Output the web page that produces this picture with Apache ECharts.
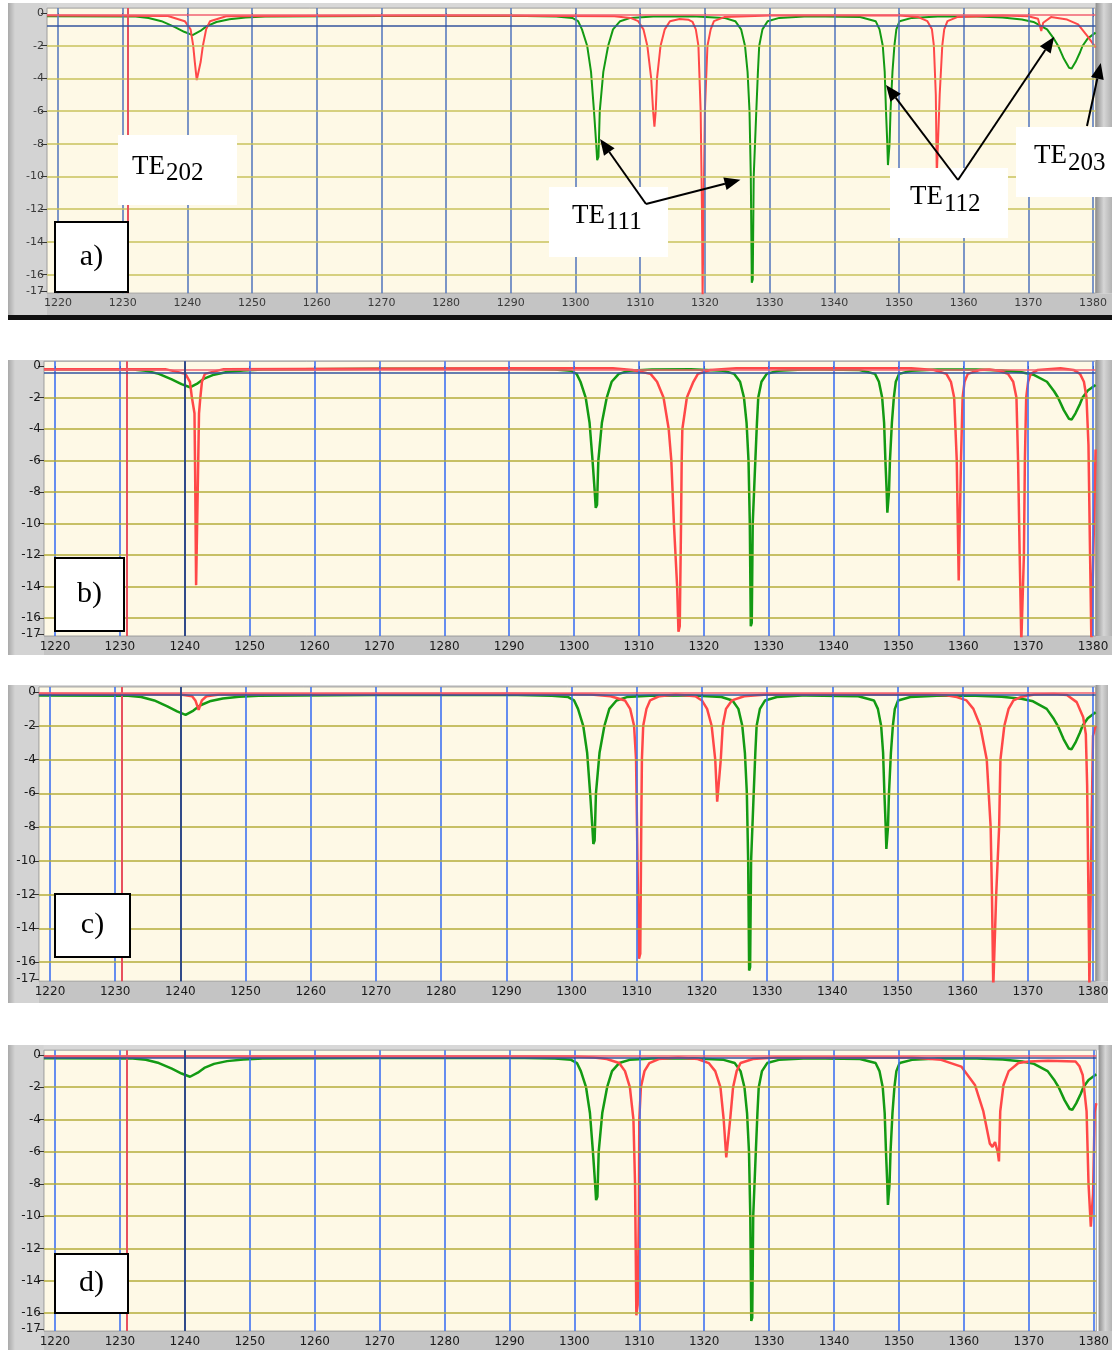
<!DOCTYPE html>
<html>
<head>
<meta charset="utf-8">
<title>Resonance spectra a)-d)</title>
<script src="https://cdn.jsdelivr.net/npm/echarts@6/dist/echarts.min.js"></script>
<style>
html, body { margin: 0; padding: 0; background: #fff; }
#chart { width: 1112px; height: 1350px; }
</style>
</head>
<body>
<div id="chart"></div>
<script>
// tick values
const xTicks = [1220, 1230, 1240, 1250, 1260, 1270, 1280, 1290, 1300, 1310, 1320, 1330, 1340, 1350, 1360, 1370, 1380];
const yTicks = [0, -2, -4, -6, -8, -10, -12, -14, -16, -17];
const hGridValues = [-2, -4, -6, -8, -10, -12, -14, -16];

// green trace (same in all four panels)
const greenTrace = [
    [1218.3, -0.2], [1232, -0.22], [1234, -0.3], [1236, -0.5], [1238, -0.85], [1239.5, -1.15], [1240.8, -1.35],
    [1242, -1.1], [1243, -0.8], [1244.5, -0.55], [1246.5, -0.38], [1249, -0.28], [1252, -0.22], [1270, -0.18], [1290, -0.17],
    [1297, -0.22], [1299.5, -0.3], [1300.4, -0.5], [1301.0, -1.0], [1301.8, -2.0], [1302.4, -3.6], [1302.86, -6.0],
    [1303.2, -8.0], [1303.35, -9.0], [1303.55, -8.8], [1303.75, -6.0], [1304.3, -3.6], [1305.05, -2.0], [1305.8, -1.0],
    [1306.9, -0.5], [1308.5, -0.3], [1312, -0.22], [1318, -0.2],
    [1323, -0.3], [1324.7, -0.5], [1325.6, -1.0], [1326.2, -2.0], [1326.6, -3.6], [1326.9, -6.0], [1327.1, -10.0],
    [1327.25, -16.5], [1327.4, -16.3], [1327.55, -10.0], [1327.95, -6.0], [1328.2, -3.6], [1328.4, -2.0], [1328.9, -1.0],
    [1329.7, -0.5], [1331.5, -0.3], [1336, -0.2],
    [1344, -0.25], [1346.4, -0.5], [1347.0, -1.0], [1347.5, -2.0], [1347.8, -3.6], [1348.0, -6.0], [1348.2, -8.0],
    [1348.3, -9.3], [1348.45, -9.2], [1348.55, -8.0], [1348.7, -6.0], [1349.0, -3.6], [1349.3, -2.0], [1349.6, -1.0],
    [1350.1, -0.5], [1352, -0.3], [1356, -0.22],
    [1362, -0.22], [1366, -0.28], [1369, -0.4], [1370.8, -0.55], [1372.9, -1.0], [1374.0, -1.6], [1374.6, -2.0],
    [1375.5, -2.8], [1376.3, -3.35], [1376.7, -3.4], [1377.3, -3.0], [1378.0, -2.4], [1378.4, -2.0], [1379.2, -1.55],
    [1380.4, -1.2]
];

// red traces, one per panel
const redA = [
    [1218.3, -0.15], [1237, -0.18], [1239.6, -0.5], [1240.5, -1.0], [1240.9, -2.0], [1241.15, -3.0], [1241.45, -4.1],
    [1241.7, -4.0], [1242.05, -3.0], [1242.4, -2.0], [1242.9, -1.0], [1243.5, -0.5], [1246, -0.2], [1280, -0.15],
    [1306, -0.2], [1308.5, -0.3], [1309.7, -0.5], [1310.5, -1.0], [1311.1, -2.0], [1311.7, -4.0], [1312.0, -6.0],
    [1312.2, -6.95], [1312.4, -6.0], [1312.6, -4.0], [1313.15, -2.0], [1313.8, -1.0], [1314.6, -0.5], [1316.1, -0.37],
    [1317.5, -0.42], [1318.1, -0.55], [1318.6, -1.0], [1319.0, -2.0], [1319.35, -6.0], [1319.55, -12], [1319.65, -17.5],
    [1319.8, -12], [1320.0, -6.0], [1320.4, -2.0], [1320.9, -1.0], [1321.4, -0.5], [1323, -0.25], [1330, -0.15],
    [1350, -0.15], [1353, -0.25], [1354.4, -0.5], [1355.1, -1.0], [1355.4, -2.0], [1355.7, -5.0], [1355.85, -10.0],
    [1356.05, -10.0], [1356.3, -5.0], [1356.7, -2.0], [1357.0, -1.0], [1357.5, -0.5], [1359, -0.25], [1366, -0.15],
    [1370, -0.2], [1371.5, -0.35], [1372.0, -1.1], [1372.3, -0.6], [1373.5, -0.25], [1376, -0.4], [1377.7, -0.7],
    [1379.2, -1.45], [1380.4, -2.1]
];
const redB = [
    [1218.3, -0.2], [1237, -0.2], [1240.1, -0.5], [1240.8, -1.0], [1241.1, -2.0], [1241.5, -3.0], [1241.6, -6.7],
    [1241.75, -13.9], [1241.9, -13.8], [1242.05, -6.7], [1242.2, -3.0], [1242.4, -2.0], [1242.65, -1.0], [1243.1, -0.5],
    [1246, -0.2], [1290, -0.15],
    [1306, -0.15], [1309, -0.25], [1311.8, -0.5], [1312.8, -1.0], [1313.8, -2.0], [1314.6, -4.0], [1315.0, -6.0],
    [1315.4, -10.0], [1315.9, -14.0], [1316.1, -16.85], [1316.3, -16.5], [1316.5, -10.0], [1316.6, -6.0], [1316.7, -4.0],
    [1317.4, -2.0], [1318.4, -1.0], [1319.1, -0.5], [1321, -0.25], [1325, -0.15],
    [1352, -0.15], [1355.5, -0.25], [1357.4, -0.5], [1358.1, -1.0], [1358.6, -2.0], [1359.0, -6.0], [1359.3, -13.6],
    [1359.5, -13.6], [1359.65, -6.0], [1359.9, -2.0], [1360.2, -1.0], [1360.7, -0.5], [1362.5, -0.25], [1364, -0.22],
    [1365.5, -0.3], [1366.9, -0.5], [1367.7, -1.0], [1368.2, -2.0], [1368.45, -6.0], [1368.7, -12.0], [1368.95, -17.5],
    [1369.2, -17.5], [1369.35, -12], [1369.5, -6.0], [1369.7, -2.0], [1370.0, -1.0], [1370.4, -0.5], [1371.5, -0.25],
    [1375, -0.15], [1377, -0.25], [1378, -0.5], [1378.6, -1.0], [1379.0, -2.0], [1379.3, -5.0], [1379.55, -12],
    [1379.75, -17.5], [1380.0, -17.5], [1380.15, -10], [1380.4, -5.3]
];
const redC = [
    [1218.3, -0.1], [1240, -0.15], [1241.8, -0.25], [1242.3, -0.5], [1242.8, -1.05], [1243.3, -0.5], [1244, -0.25],
    [1246, -0.15], [1290, -0.1],
    [1303, -0.15], [1306, -0.25], [1308.2, -0.5], [1309.0, -1.0], [1309.6, -2.0], [1309.9, -4.0], [1310.05, -8.0],
    [1310.2, -12.0], [1310.35, -15.8], [1310.55, -15.5], [1310.7, -8.0], [1310.8, -4.0], [1311.0, -2.0], [1311.5, -1.0],
    [1312.05, -0.5], [1313.5, -0.25], [1316, -0.15],
    [1319, -0.25], [1320.0, -0.5], [1320.8, -1.0], [1321.5, -2.0], [1322.05, -4.0], [1322.35, -6.5], [1322.6, -6.4],
    [1322.9, -4.0], [1323.2, -2.0], [1323.7, -1.0], [1324.6, -0.5], [1326.5, -0.25], [1330, -0.15],
    [1355, -0.15], [1357.5, -0.2], [1359.1, -0.3], [1360.6, -0.5], [1361.65, -1.0], [1362.7, -2.0], [1363.7, -4.0],
    [1364.3, -8.0], [1364.5, -12.0], [1364.7, -17.5], [1365.0, -17.5], [1365.15, -12.0], [1365.6, -8.0], [1365.8, -4.0],
    [1366.4, -2.0], [1367.05, -1.0], [1367.8, -0.5], [1368.9, -0.3], [1371, -0.15], [1374, -0.12],
    [1376, -0.18], [1377.5, -0.6], [1378.5, -1.5], [1378.9, -2.5], [1379.1, -5.5], [1379.3, -12], [1379.45, -17.5],
    [1379.7, -17.5], [1379.8, -7.5], [1380.0, -2.6], [1380.4, -2.0]
];
const redD = [
    [1218.3, -0.1], [1300, -0.1], [1303, -0.15], [1305, -0.25], [1306.9, -0.5], [1307.8, -1.0], [1308.55, -2.0],
    [1309.1, -4.0], [1309.35, -8.0], [1309.45, -12.0], [1309.55, -16.15], [1309.75, -15.5], [1309.95, -9.5],
    [1310.0, -4.0], [1310.25, -2.0], [1310.8, -1.0], [1311.55, -0.5], [1313, -0.25], [1316, -0.15],
    [1319, -0.25], [1320.7, -0.5], [1321.7, -1.0], [1322.5, -2.0], [1323.0, -4.0], [1323.4, -6.35], [1323.65, -6.3],
    [1324.0, -4.0], [1324.45, -2.0], [1325.0, -1.0], [1325.6, -0.5], [1327.5, -0.25], [1331, -0.15],
    [1352, -0.15], [1356.5, -0.3], [1359.6, -0.72], [1361.7, -1.86], [1363.0, -3.5], [1364.0, -5.5], [1364.4, -5.7],
    [1364.8, -5.4], [1365.2, -6.0], [1365.4, -6.6], [1365.6, -3.5], [1366.1, -1.86], [1366.9, -1.0], [1368.4, -0.5],
    [1370, -0.4], [1373, -0.35], [1377.2, -0.4], [1377.8, -0.7], [1378.3, -1.24], [1378.9, -3.5], [1379.2, -8.0],
    [1379.55, -10.65], [1379.9, -8.6], [1380.15, -3.5], [1380.4, -3.0]
];
const redTraces = [redA, redB, redC, redD];

// cursor positions per panel
const redCursorX = [1230.8, 1231, 1231, 1231];
const blueCursorX = [null, 1240, 1240, 1240];
const blueCursorY = [-0.75, -0.42, -0.18, -0.15];
const redCursorY = [-0.12, -0.26, -0.06, -0.05];
const panelNames = ['a)', 'b)', 'c)', 'd)'];

// panel a annotations: arrow tips in data units
const modeLabels = [
    { main: 'TE', sub: '202', box: [118, 135, 119, 70], tx: 132, ty: 167, sy: 173, arrows: [] },
    { main: 'TE', sub: '111', box: [549, 187, 119, 70], tx: 572, ty: 216, sy: 222,
      from: [646, 204], arrows: [[1303.8, -7.7], [1325.5, -10.2]] },
    { main: 'TE', sub: '112', box: [890, 168, 118, 70], tx: 910, ty: 197, sy: 204,
      from: [958, 180], arrows: [[1348.0, -4.4], [1374.0, -1.45]] },
    { main: 'TE', sub: '203', box: [1016, 127, 96, 70], tx: 1034, ty: 156, sy: 163,
      from: [1087, 126], arrows: [[1381.2, -3.05]] }
];

const X_MIN = 1218.3, X_MAX = 1380.4, Y_MIN = -17.13, Y_MAX = 0.3;

// pixel layout of the four screen captures
const panels = [
    { x1220: 58, x1380: 1093, y0: 13, y17: 291, frame: [8, 3, 1104, 312], box: [55, 222, 73, 70], font: 11,
      vColor: '#5b7cbf', hColor: '#c9c25c', lineW: 2 },
    { x1220: 55, x1380: 1093, y0: 366, y17: 634, frame: [8, 360, 1104, 295], box: [55, 558, 69, 73], font: 12,
      vColor: '#3f72f2', hColor: '#b5ad3a', lineW: 2.5 },
    { x1220: 50, x1380: 1093, y0: 692, y17: 979, frame: [8, 685, 1100, 318], box: [55, 894, 75, 63], font: 12,
      vColor: '#3f72f2', hColor: '#b5ad3a', lineW: 2.5 },
    { x1220: 55, x1380: 1096, y0: 1055, y17: 1329, frame: [8, 1045, 1104, 305], box: [55, 1254, 73, 59], font: 12,
      vColor: '#3f72f2', hColor: '#b5ad3a', lineW: 2.5 }
];

panels.forEach(p => {
    const sx = (p.x1380 - p.x1220) / 160;
    const sy = (p.y17 - p.y0) / 17;
    p.left = p.x1220 - (1220 - X_MIN) * sx;
    p.width = (X_MAX - X_MIN) * sx;
    p.top = p.y0 - Y_MAX * sy;
    p.height = (Y_MAX - Y_MIN) * sy;
});

const chart = echarts.init(document.getElementById('chart'), null, { renderer: 'canvas' });

const grids = [], xAxes = [], yAxes = [], series = [];

panels.forEach((p, i) => {
    grids.push({
        left: p.left, top: p.top, width: p.width, height: p.height,
        show: true, backgroundColor: '#fef9e6', borderColor: '#9c9c9c', borderWidth: 1
    });
    const labelStyle = {
        color: i === 0 ? '#3a3a3a' : '#1a1a1a', fontSize: p.font, fontFamily: 'DejaVu Sans',
        formatter: v => String(v)
    };
    xAxes.push({
        type: 'value', gridIndex: i, min: X_MIN, max: X_MAX,
        axisLine: { show: false }, splitLine: { show: false },
        axisTick: { customValues: xTicks, length: 4, lineStyle: { color: '#333' } },
        axisLabel: Object.assign({ customValues: xTicks, margin: 5 }, labelStyle)
    });
    yAxes.push({
        type: 'value', gridIndex: i, min: Y_MIN, max: Y_MAX,
        axisLine: { show: false }, splitLine: { show: false },
        axisTick: { customValues: yTicks, length: 6, lineStyle: { color: '#333' } },
        axisLabel: Object.assign({ customValues: yTicks, margin: 3 }, labelStyle)
    });

    const gridLines = xTicks.map(v => ({ xAxis: v, lineStyle: { color: p.vColor, width: 1.6 } }))
        .concat(hGridValues.map(v => ({ yAxis: v, lineStyle: { color: p.hColor, width: 1.6 } })));
    series.push({
        type: 'line', xAxisIndex: i, yAxisIndex: i, data: [], z: 1, silent: true,
        markLine: { silent: true, symbol: ['none', 'none'], animation: false, label: { show: false },
            lineStyle: { type: 'solid' }, data: gridLines }
    });

    const cursors = [
        { xAxis: redCursorX[i], lineStyle: { color: '#e8505e', width: 2 } },
        { yAxis: redCursorY[i], lineStyle: { color: '#f06070', width: 1.5 } },
        { yAxis: blueCursorY[i], lineStyle: { color: '#34549e', width: 1.5 } }
    ];
    if (blueCursorX[i] !== null) cursors.push({ xAxis: blueCursorX[i], lineStyle: { color: '#2c437e', width: 1.8 } });
    series.push({
        type: 'line', xAxisIndex: i, yAxisIndex: i, data: [], z: 2, silent: true,
        markLine: { silent: true, symbol: ['none', 'none'], animation: false, label: { show: false },
            lineStyle: { type: 'solid' }, data: cursors }
    });

    series.push({
        name: 'green', type: 'line', xAxisIndex: i, yAxisIndex: i, data: greenTrace,
        showSymbol: false, z: 3, lineStyle: { color: '#139a13', width: p.lineW }
    });
    series.push({
        name: 'red', type: 'line', xAxisIndex: i, yAxisIndex: i, data: redTraces[i],
        showSymbol: false, z: 4, lineStyle: { color: '#ff4848', width: p.lineW }
    });
});

chart.setOption({
    animation: false,
    backgroundColor: '#ffffff',
    grid: grids,
    xAxis: xAxes,
    yAxis: yAxes,
    series
});

// frames, panel letters, mode labels and arrows
const graphic = [];

panels.forEach((p, i) => {
    const [fx, fy, fw, fh] = p.frame;
    const gRight = p.left + p.width, gBottom = p.top + p.height;
    graphic.push(
        { type: 'rect', z: -1, silent: true, shape: { x: fx, y: fy, width: p.left - fx, height: fh }, style: { fill: '#d3d3d3' } },
        { type: 'rect', z: -1, silent: true, shape: { x: fx, y: fy, width: 7, height: fh },
          style: { fill: new echarts.graphic.LinearGradient(0, 0, 1, 0, [{ offset: 0, color: '#a9a9a9' }, { offset: 1, color: '#d3d3d3' }]) } },
        { type: 'rect', z: -1, silent: true, shape: { x: p.left, y: fy, width: fx + fw - p.left, height: p.top - fy }, style: { fill: '#d8d8d8' } },
        { type: 'rect', z: -1, silent: true, shape: { x: p.left, y: gBottom, width: fx + fw - p.left, height: fy + fh - gBottom }, style: { fill: '#c4c4c4' } },
        { type: 'rect', z: -1, silent: true, shape: { x: gRight, y: fy, width: fx + fw - gRight, height: gBottom - fy },
          style: { fill: new echarts.graphic.LinearGradient(0, 0, 1, 0, [
              { offset: 0, color: '#8e8e8e' }, { offset: 0.5, color: '#d6d6d6' }, { offset: 1, color: '#b2b2b2' }]) } }
    );
    const [bx, by, bw, bh] = p.box;
    graphic.push(
        { type: 'rect', z: 60, silent: true, shape: { x: bx, y: by, width: bw, height: bh },
          style: { fill: '#fff', stroke: '#000', lineWidth: 2 } },
        { type: 'text', z: 61, silent: true, x: bx + bw / 2, y: by + bh / 2,
          style: { text: panelNames[i], font: '30px "Liberation Serif"', fill: '#000', align: 'center', verticalAlign: 'middle' } }
    );
});

// black bar under panel a
graphic.push({ type: 'rect', z: 5, silent: true, shape: { x: 8, y: 315, width: 1104, height: 5 }, style: { fill: '#111' } });

function arrowTo(sx, sy, tx, ty) {
    const dx = tx - sx, dy = ty - sy, len = Math.hypot(dx, dy);
    const ux = dx / len, uy = dy / len, nx = -uy, ny = ux;
    const hl = 16, hw = 6.5;
    const bx = tx - ux * hl, by = ty - uy * hl;
    return [
        { type: 'line', z: 70, silent: true, shape: { x1: sx, y1: sy, x2: bx, y2: by }, style: { stroke: '#000', lineWidth: 2 } },
        { type: 'polygon', z: 70, silent: true,
          shape: { points: [[tx, ty], [bx + nx * hw, by + ny * hw], [bx - nx * hw, by - ny * hw]] }, style: { fill: '#000' } }
    ];
}

modeLabels.forEach(m => {
    const [bx, by, bw, bh] = m.box;
    graphic.push(
        { type: 'rect', z: 65, silent: true, shape: { x: bx, y: by, width: bw, height: bh }, style: { fill: '#fff' } },
        { type: 'text', z: 66, silent: true, x: m.tx, y: m.ty,
          style: { text: m.main, font: '27px "Liberation Serif"', fill: '#000', verticalAlign: 'middle' } },
        { type: 'text', z: 66, silent: true, x: m.tx + 34, y: m.sy,
          style: { text: m.sub, font: '25px "Liberation Serif"', fill: '#000', verticalAlign: 'middle' } }
    );
    m.arrows.forEach(t => {
        const tip = chart.convertToPixel({ gridIndex: 0 }, t);
        arrowTo(m.from[0], m.from[1], tip[0], tip[1]).forEach(e => graphic.push(e));
    });
});

chart.setOption({ graphic });
</script>
</body>
</html>
